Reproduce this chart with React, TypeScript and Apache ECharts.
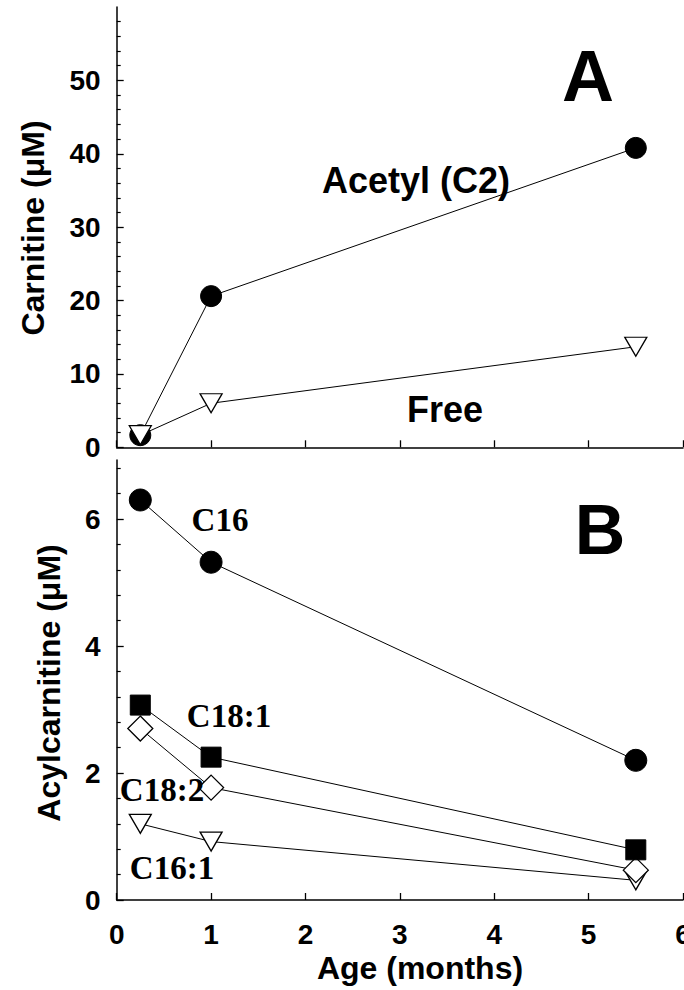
import React, { useEffect, useRef } from "react";
import * as echarts from "echarts";

const months = [0.25, 1, 5.5];
const acetylC2 = [1.65, 20.6, 40.8];
const freeCarnitine = [1.65, 6.0, 13.7];
const c16 = [6.3, 5.32, 2.2];
const c18_1 = [3.07, 2.25, 0.79];
const c18_2 = [2.7, 1.77, 0.47];
const c16_1 = [1.2, 0.92, 0.31];

const xTicks = [0, 1, 2, 3, 4, 5, 6];
const topMajorTicks = [0, 10, 20, 30, 40, 50];
const topMinorTicks = [2, 4, 6, 8, 12, 14, 16, 18, 22, 24, 26, 28, 32, 34, 36, 38, 42, 44, 46, 48, 52, 54, 56, 58];
const bottomMajorTicks = [0, 2, 4, 6];
const bottomMinorTicks = [0.4, 0.8, 1.2, 1.6, 2.4, 2.8, 3.2, 3.6, 4.4, 4.8, 5.2, 5.6, 6.4, 6.8];

const SANS = "'Liberation Sans', Arial, sans-serif";
const SERIF = "'Liberation Serif', 'Times New Roman', serif";

const pairs = (ys: number[]) => months.map((m, i) => [m, ys[i]]);

export default function App() {
  const ref = useRef<HTMLDivElement>(null);
  useEffect(() => {
    if (!ref.current) return;
    const chart = echarts.init(ref.current, null, { renderer: "svg" });
    const axisLine = { show: true, lineStyle: { color: "#000", width: 1.5 } };
    const xAxisBase = {
      type: "value",
      min: 0,
      max: 6,
      interval: 1,
      axisLine,
      splitLine: { show: false },
      axisTick: { show: true, inside: true, length: 7, lineStyle: { color: "#000", width: 1.3 }, customValues: xTicks },
    };
    const majorY = (gridIndex: number, max: number, ticks: number[]) => ({
      type: "value",
      gridIndex,
      position: "left",
      min: 0,
      max,
      axisLine,
      splitLine: { show: false },
      axisTick: { show: true, inside: true, length: 7, lineStyle: { color: "#000", width: 1.3 }, customValues: ticks },
      axisLabel: {
        show: true,
        customValues: ticks,
        color: "#000",
        fontFamily: SANS,
        fontWeight: "bold",
        fontSize: 28,
        margin: 16,
      },
    });
    const minorY = (gridIndex: number, max: number, ticks: number[]) => ({
      type: "value",
      gridIndex,
      position: "left",
      min: 0,
      max,
      axisLine: { show: false },
      splitLine: { show: false },
      axisTick: { show: true, inside: true, length: 4, lineStyle: { color: "#000", width: 1.2 }, customValues: ticks },
      axisLabel: { show: false },
    });
    const hollow = { color: "#fff", borderColor: "#000", borderWidth: 1.3 };
    const filled = { color: "#000", borderColor: "#000", borderWidth: 1 };
    const line = { color: "#000", width: 1 };
    const mkSeries = (name: string, ys: number[], xi: number, yi: number, symbol: string, size: any, style: any, rotate = 0) => ({
      name,
      type: "line",
      xAxisIndex: xi,
      yAxisIndex: yi,
      data: pairs(ys),
      symbol,
      symbolSize: size,
      symbolRotate: rotate,
      showAllSymbol: true,
      lineStyle: line,
      itemStyle: style,
      emphasis: { disabled: true },
      z: 3,
    });
    const txt = (text: string, x: number, y: number, size: number, family = SANS, rotation = 0) => ({
      type: "text",
      x,
      y,
      rotation,
      z: 10,
      style: {
        text,
        fill: "#000",
        font: `bold ${size}px ${family}`,
        textAlign: "center",
        textVerticalAlign: "middle",
      },
    });
    const option: any = {
      animation: false,
      backgroundColor: "#fff",
      grid: [
        { left: 116.7, right: 1, top: 7, height: 440.3, outerBoundsMode: "none", containLabel: false },
        { left: 116.7, right: 1, top: 460, height: 440, outerBoundsMode: "none", containLabel: false },
      ],
      xAxis: [
        { ...xAxisBase, gridIndex: 0, axisLabel: { show: false } },
        {
          ...xAxisBase,
          gridIndex: 1,
          axisLabel: { show: true, color: "#000", fontFamily: SANS, fontWeight: "bold", fontSize: 28, margin: 20, customValues: xTicks },
        },
      ],
      yAxis: [
        majorY(0, 60, topMajorTicks),
        minorY(0, 60, topMinorTicks),
        majorY(1, 6.93, bottomMajorTicks),
        minorY(1, 6.93, bottomMinorTicks),
      ],
      series: [
        mkSeries("Acetyl (C2)", acetylC2, 0, 0, "circle", 21, filled),
        mkSeries("Free", freeCarnitine, 0, 0, "triangle", [22, 19], hollow, 180),
        mkSeries("C16:1", c16_1, 1, 2, "triangle", [22, 19], hollow, 180),
        mkSeries("C18:2", c18_2, 1, 2, "diamond", [25, 25], hollow),
        mkSeries("C18:1", c18_1, 1, 2, "rect", [20, 20], filled),
        mkSeries("C16", c16, 1, 2, "circle", 22, filled),
      ],
      graphic: [
        txt("Carnitine (\u03bcM)", 33, 228, 32, SANS, Math.PI / 2),
        txt("Acylcarnitine (\u03bcM)", 49, 683, 32, SANS, Math.PI / 2),
        txt("Age (months)", 420, 968, 32),
        txt("Acetyl (C2)", 416, 180, 36),
        txt("Free", 445, 409, 36),
        txt("A", 588, 76, 72),
        txt("B", 600, 530, 70),
        txt("C16", 220, 520, 33, SERIF),
        txt("C18:1", 229, 716, 33, SERIF),
        txt("C18:2", 162, 790, 33, SERIF),
        txt("C16:1", 172, 868, 33, SERIF),
      ],
    };
    chart.setOption(option);
    return () => chart.dispose();
  }, []);
  return <div ref={ref} style={{ position: "absolute", left: 0, top: 0, width: 684, height: 990 }} />;
}
